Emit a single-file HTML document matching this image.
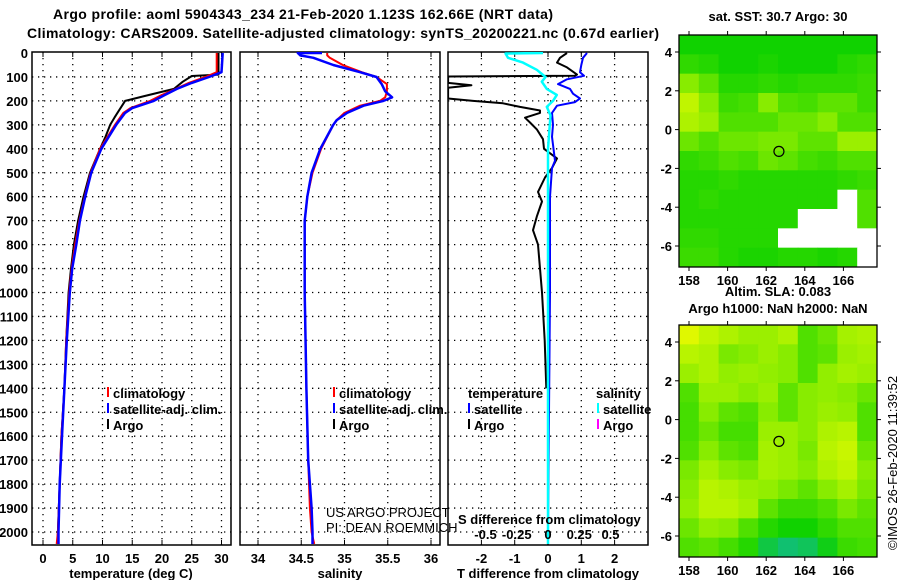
<!DOCTYPE html>
<html><head><meta charset="utf-8"><style>
html,body{margin:0;padding:0;background:#fff;}
svg{display:block;font-family:"Liberation Sans",sans-serif;}
.b{font-weight:bold;font-size:13px;fill:#000;}
.n{font-weight:normal;font-size:13px;fill:#000;}
</style></head><body>
<svg id="s" width="900" height="580" viewBox="0 0 900 580" xmlns="http://www.w3.org/2000/svg">
<defs>
<clipPath id="c1"><rect x="32" y="52" width="199" height="493"/></clipPath>
<clipPath id="c2"><rect x="240" y="52" width="200" height="493"/></clipPath>
<clipPath id="c3"><rect x="448" y="52" width="200" height="493"/></clipPath>
</defs>
<text x="303" y="19" text-anchor="middle" font-size="14" font-weight="bold" textLength="500">Argo profile: aoml 5904343_234 21-Feb-2020 1.123S 162.66E (NRT data)</text>
<text x="343" y="38" text-anchor="middle" font-size="14" font-weight="bold" textLength="632">Climatology: CARS2009. Satellite-adjusted climatology: synTS_20200221.nc (0.67d earlier)</text>
<g id="root"></g>
</svg>
<script>
// ---- data ----
const depthTicks = [0,100,200,300,400,500,600,700,800,900,1000,1100,1200,1300,1400,1500,1600,1700,1800,1900,2000];
const tempTicks = [0,5,10,15,20,25,30];
const salTicks = [34,34.5,35,35.5,36];
const tdiffTicks = [-2,-1,0,1,2];
const sdiffTicks = [-0.5,-0.25,0,0.25,0.5];
const sdiffLabels = ["-0.5","-0.25","0","0.25","0.5"];

const tempDepth = [0,80,100,125,150,175,200,230,250,300,400,500,600,700,800,900,1000,1200,1400,1600,1800,2000,2050];
const tempClim = [29.2,29.2,27.3,24.5,22.3,20,18,14.7,13.5,12.1,9.6,8.0,7.0,6.1,5.4,4.8,4.4,3.9,3.6,3.1,2.8,2.5,2.3];
const tempSat = [30.2,30.0,27.9,25,22.5,20.5,18.6,15,13.8,12.3,9.8,8.1,7.1,6.2,5.6,4.9,4.5,4.0,3.6,3.2,2.8,2.6,2.6];
const argoDepth = [0,90,96,120,150,180,200,250,270,300,350,400,500,600,700,800,900,1000,1200,1400,1600,1800,2000,2050];
const argoTemp = [29.5,29.5,25,23.5,22,17,13.8,12.5,12,11.3,10.5,9.6,7.9,6.8,5.9,5.2,4.7,4.3,3.9,3.6,3.1,2.8,2.5,2.4];

const salDepth = [0,0,10,20,50,80,100,130,160,185,200,220,250,280,300,400,500,600,700,1000,1400,1700,1900,2000,2050];
const salSat = [34.74,34.46,34.49,34.64,34.87,35.18,35.37,35.43,35.47,35.55,35.45,35.22,35.03,34.91,34.87,34.72,34.62,34.57,34.54,34.54,34.56,34.58,34.62,34.63,34.63];
const salClim = [34.8,34.8,34.8,34.83,34.98,35.2,35.37,35.49,35.49,35.47,35.41,35.18,35.0,34.91,34.87,34.73,34.63,34.57,34.54,34.54,34.56,34.58,34.6,34.62,34.65];

const argoDiffDepth = [0,20,40,60,90,95,98,125,135,145,190,200,210,225,240,250,270,290,320,360,400,440,480,520,580,620,680,740,800,900,1000,1200,1400];
const argoDiffT = [0.57,0.36,0.27,0.57,0.87,0.8,-3,-3,-2.3,-3,-3,-2.25,-1.35,-0.84,-0.24,-0.24,-0.69,-0.54,-0.33,-0.15,-0.12,0.27,0.12,-0.09,-0.3,-0.18,-0.33,-0.45,-0.3,-0.24,-0.18,-0.1,-0.05];
const satDiffDepth = [0,20,50,80,95,110,130,150,170,190,205,220,250,300,350,450,480,600,1000,1500,2000,2050];
const satDiffT = [1.17,1.05,1.0,0.96,1.08,0.57,0.3,0.66,0.75,0.96,0.81,0.27,0.12,0.15,0.12,0.21,0.12,0.06,0.06,0.03,0,0];
const salDiffDepth = [0,2,20,40,70,100,120,150,175,200,225,260,400,2000,2050];
const salDiffS = [-0.04,-0.34,-0.32,-0.2,-0.09,-0.02,-0.05,-0.01,0.07,0.04,-0.01,0.02,0,0,0];

const lonTicks = [158,160,162,164,166];
const latTicks = [4,2,0,-2,-4,-6];
const sstGrid = [
[0,0,0,0,0,0,0,0,0,0],
[0.3,0.2,0,0,0.1,0,0,0,0.2,0.3],
[1,0.7,0.2,0.2,0.3,0.2,0.3,0.3,0.3,0.4],
[1.6,1,0.4,0.5,1,0.6,0.5,0.7,0.7,0.4],
[1.4,1.2,0.6,0.6,0.6,0.8,0.8,1,0.6,0.6],
[0.8,0.6,0.8,0.8,0.9,0.9,0.7,0.7,1.2,1.2],
[0.3,0.4,0.6,0.5,0.8,0.7,0.5,0.4,0.6,0.6],
[0.2,0.2,0.3,0.2,0.2,0.2,0.2,0.2,0.3,0.4],
[0.2,0.3,0.2,0.2,0.2,0.2,0.2,0.2,-9,0.6],
[0.2,0.2,0.2,0.2,0.2,0.2,-9,-9,-9,0.6],
[0.3,0.3,0.2,0.2,0.2,-9,-9,-9,-9,-9],
[0.4,0.4,0.2,0.1,0.1,0.2,0.2,0.1,0.2,-9]];
const slaGrid = [
[2,1.6,1.4,1.2,1.2,1.4,0.6,0.8,1.3,1.4],
[1.5,1.4,0.9,1,1.2,1,0.6,0.7,1.2,1.3],
[1.2,1.4,1.1,1.2,1.1,1,0.6,1.1,1.3,1.2],
[0.6,1.2,1.2,1,1.2,0.7,1,1.1,1,0.8],
[0.5,1,0.7,0.6,1,0.7,1,1.2,1.1,0.6],
[0.5,0.8,0.5,0.5,1.2,1.2,1,1.4,1.5,0.6],
[0.6,1,0.7,0.6,1.3,1.2,0.9,1.5,1.7,0.8],
[0.9,1.3,1,0.9,1.3,1.2,1,1.4,1.6,1],
[1,1.5,1.4,1.2,1.1,0.9,0.7,1,1.3,0.9],
[1.1,1.5,1.5,1.3,0.7,0.4,0.4,0.6,0.9,0.7],
[0.8,1.1,1,0.6,0.2,0,0,0.3,0.6,0.6],
[0.6,0.7,0.5,0.2,-0.3,-0.5,-0.4,-0.1,0.4,0.5]];
const argoLon = 162.66, argoLat = -1.123;

// ---- helpers ----
const NS = "http://www.w3.org/2000/svg";
const root = document.getElementById('root');
const TOP = 52, BOT = 545;
function mk(tag, attrs, parent){ const e=document.createElementNS(NS,tag); for(const k in attrs) e.setAttribute(k,attrs[k]); (parent||root).appendChild(e); return e; }
const yD = d => 53 + 0.2395*d;
const xT = t => 43 + 5.95*t;
const xS = s => 258 + 86.5*(s-34);
const xTD = t => 548 + 33.3*t;
const xSD = s => 548 + 125*s;

function panel(x0,x1,name,xticks,xf,labels){
  const g=mk('g',{});
  
  
  depthTicks.forEach(d=>{ if(d>0){ const l=mk('line',{x1:x0,x2:x1,y1:yD(d),y2:yD(d),stroke:'#000','stroke-width':1.3,'stroke-dasharray':'1.3 4.7'},g);
    
     }});
  xticks.forEach((v,i)=>{ const x=xf(v);
    const l=mk('line',{x1:x,x2:x,y1:TOP,y2:BOT,stroke:'#000','stroke-width':1.3,'stroke-dasharray':'1.3 4.7'},g);
    
    
    mk('line',{x1:x,x2:x,y1:TOP,y2:TOP+5,stroke:'#000'},g);
    mk('line',{x1:x,x2:x,y1:BOT,y2:BOT-5,stroke:'#000'},g);
    const t=mk('text',{x:x,y:563,'text-anchor':'middle',class:'b'},g); t.textContent=labels?labels[i]:String(v);
    
    
  });
  const r=mk('rect',{x:x0,y:TOP,width:x1-x0,height:BOT-TOP,fill:'none',stroke:'#000','stroke-width':1.5},g);
  
  
  return g;
}
function line(xs,ds,xf,color,w,clip,name){
  const pts=xs.map((v,i)=>xf(v).toFixed(1)+','+yD(ds[i]).toFixed(1)).join(' ');
  const p=mk('polyline',{points:pts,fill:'none',stroke:color,'stroke-width':w,'clip-path':'url(#'+clip+')','stroke-linejoin':'round'});
  
  
}
function txt(x,y,s,cls,extra){ const t=mk('text',Object.assign({x:x,y:y,class:cls||'b'},extra||{})); t.textContent=s; return t; }
function legend(x,y,color,label){
  const m=mk('line',{x1:x,x2:x,y1:y-11,y2:y-1,stroke:color,'stroke-width':2});
  
  
  const t=txt(x+5,y,label);
  
  
}

depthTicks.forEach(d=>{ const t=txt(28,yD(d)+5,String(d),'b',{'text-anchor':'end'});
  
   });

panel(32,231,'temperature-panel',tempTicks,xT);
panel(240,440,'salinity-panel',salTicks,xS);
panel(448,648,'difference-panel',tdiffTicks,xTD);

line(argoTemp,argoDepth,xT,'#000',2,'c1','argo-temperature-line');
line(tempClim,tempDepth,xT,'#f00',2,'c1','climatology-temperature-line');
line(tempSat,tempDepth,xT,'#00f',2.5,'c1','satellite-temperature-line');
line(salClim,salDepth,xS,'#f00',2,'c2','climatology-salinity-line');
line(salSat,salDepth,xS,'#00f',2.5,'c2','satellite-salinity-line');
line(argoDiffT,argoDiffDepth,xTD,'#000',2,'c3','argo-temperature-difference-line');
line(satDiffT,satDiffDepth,xTD,'#00f',2,'c3','satellite-temperature-difference-line');
line(salDiffS,salDiffDepth,xSD,'#0ff',2.5,'c3','satellite-salinity-difference-line');

[[131,'temperature (deg C)'],[340,'salinity'],[548,'T difference from climatology']].forEach(a=>{
  const t=txt(a[0],578,a[1],'b',{'text-anchor':'middle'});
  
   });

legend(108,398,'#f00','climatology');
legend(108,414,'#00f','satellite-adj. clim.');
legend(108,430,'#000','Argo');
legend(334,398,'#f00','climatology');
legend(334,414,'#00f','satellite-adj. clim.');
legend(334,430,'#000','Argo');
let t1=txt(468,398,'temperature');  
let t2=txt(596,398,'salinity');  
legend(469,414,'#00f','satellite');
legend(469,430,'#000','Argo');
legend(598,414,'#0ff','satellite');
legend(598,430,'#f0f','Argo');

let c1=txt(326,517,'US ARGO PROJECT','n');  
let c2=txt(326,532,'PI: DEAN ROEMMICH','n');  
let sd=txt(458,524,'S difference from climatology');  
sdiffTicks.forEach((v,i)=>{ const t=txt(xSD(v),539,sdiffLabels[i],'b',{'text-anchor':'middle'});
  
   });

// ---- maps ----
const stops=[[-0.5,[16,192,112]],[0,[16,210,0]],[0.6,[80,224,0]],[1,[136,236,0]],[1.5,[184,244,0]],[2,[224,248,0]]];
function col(v){ if(v<-5) return '#fff'; if(v<=stops[0][0]) return 'rgb('+stops[0][1]+')';
  for(let i=1;i<stops.length;i++){ if(v<=stops[i][0]){ const a=stops[i-1],b=stops[i],f=(v-a[0])/(b[0]-a[0]);
    return 'rgb('+a[1].map((c,k)=>Math.round(c+(b[1][k]-c)*f)).join(',')+')'; } }
  return 'rgb('+stops[stops.length-1][1]+')'; }
function map(top,grid,name,title,titleY,showLonLabels){
  const lonX = l => 689 + 19.3*(l-158);
  const latY = l => top + 17 + 19.4*(4-l);
  const x0=679,x1=877,y0=top,y1=top+232;
  const g=mk('g',{});
  
  
  const rows=grid.length, cols=grid[0].length, cw=(x1-x0)/cols, rh=(y1-y0)/rows;
  grid.forEach((row,r)=>row.forEach((v,c)=>{ const e=mk('rect',{x:x0+c*cw,y:y0+r*rh,width:cw+0.5,height:rh+0.5,fill:col(v)},g);
    
     }));
  const f=mk('rect',{x:x0,y:y0,width:x1-x0,height:y1-y0,fill:'none',stroke:'#000','stroke-width':1.3},g);
  
  
  const ci=mk('circle',{cx:lonX(argoLon),cy:latY(argoLat),r:5,fill:'none',stroke:'#000','stroke-width':1.2},g);
  
  
  lonTicks.forEach(l=>{ const x=lonX(l); mk('line',{x1:x,x2:x,y1:y0-4,y2:y0,stroke:'#000'},g); mk('line',{x1:x,x2:x,y1:y1,y2:y1+4,stroke:'#000'},g);
    if(showLonLabels){ const t=txt(x,y1+18,String(l),'b',{'text-anchor':'middle'});   } });
  latTicks.forEach(l=>{ const y=latY(l); mk('line',{x1:x0-4,x2:x0,y1:y,y2:y,stroke:'#000'},g); mk('line',{x1:x1,x2:x1+4,y1:y,y2:y,stroke:'#000'},g);
    const t=txt(672,y+5,String(l),'b',{'text-anchor':'end'});   });
  title.forEach((s,i)=>{ const t=txt(778,titleY[i],s,'b',{'text-anchor':'middle'});   });
}
map(325,slaGrid,'sla-map',['Altim. SLA: 0.083','Argo h1000: NaN h2000: NaN'],[296,313],true);
map(35,sstGrid,'sst-map',['sat. SST: 30.7 Argo: 30'],[21],true);
let im=txt(0,0,'©IMOS 26-Feb-2020 11:39:52','n',{'text-anchor':'middle','transform':'translate(897,463) rotate(-90)'});


</script>
</body></html>
